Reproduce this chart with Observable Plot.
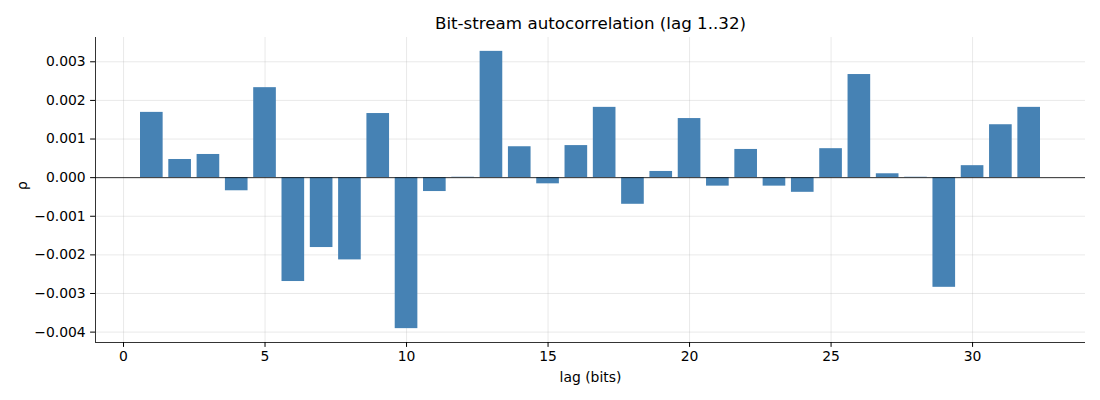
<!DOCTYPE html>
<html><head><meta charset="utf-8">
<script src="https://cdn.jsdelivr.net/npm/d3@7"></script>
<script src="https://cdn.jsdelivr.net/npm/@observablehq/plot@0.6"></script>
<style>html,body{margin:0;padding:0;background:#fff}</style>
</head><body><div id="chart"></div>
<script>
const lags = [1,2,3,4,5,6,7,8,9,10,11,12,13,14,15,16,17,18,19,20,21,22,23,24,25,26,27,28,29,30,31,32];
const rho = [0.00169,0.00047,0.00060,-0.00034,0.00233,-0.00269,-0.00181,-0.00213,0.00166,-0.00391,-0.00036,0.00001,
             0.00327,0.00080,-0.00016,0.00083,0.00182,-0.00069,0.00016,0.00153,-0.00022,0.00073,-0.00022,-0.00038,
             0.00075,0.00267,0.00010,0.00001,-0.00284,0.00031,0.00137,0.00182];
const xTicks = [0,5,10,15,20,25,30];
const yTicks = [-0.004,-0.003,-0.002,-0.001,0,0.001,0.002,0.003];
const titleText = "Bit-stream autocorrelation (lag 1..32)";
const xLabel = "lag (bits)";
const yLabel = "ρ";
const barWidth = 0.8;

const data = lags.map((lag, i) => ({lag, rho: rho[i]}));
const xmin = d3.min(lags) - barWidth / 2, xmax = d3.max(lags) + barWidth / 2;
const xpad = (xmax - xmin) * 0.05;
const ymin = d3.min(rho), ymax = d3.max(rho);
const ypad = (ymax - ymin) * 0.05;
const xDomain = [xmin - xpad, xmax + xpad];
const yDomain = [ymin - ypad, ymax + ypad];
const fmt = d => d3.format(".3f")(d).replace("-", "\u2212");
const gridStyle = {stroke: "#b0b0b0", strokeOpacity: 0.35, strokeWidth: 0.8};

const chart = Plot.plot({
  width: 1100, height: 400,
  marginTop: 37, marginBottom: 58, marginLeft: 95, marginRight: 15,
  style: {fontFamily: "DejaVu Sans", fontSize: "13.9px", background: "white", color: "black"},
  x: {domain: xDomain, label: null},
  y: {domain: yDomain, label: null},
  marks: [
    Plot.gridX(xTicks, gridStyle),
    Plot.gridY(yTicks, gridStyle),
    Plot.rect(data, {x1: d => d.lag - barWidth / 2, x2: d => d.lag + barWidth / 2, y1: d => 0, y2: "rho", fill: "#4682b4"}),
    Plot.ruleY([0], {stroke: "black", strokeWidth: 0.8}),
    Plot.ruleX([xDomain[0]], {stroke: "black", strokeWidth: 0.8}),
    Plot.ruleY([yDomain[0]], {stroke: "black", strokeWidth: 0.8}),
    Plot.axisX(xTicks, {tickSize: 4.9, tickPadding: 4.2, fontSize: 13.9, label: null}),
    Plot.axisY(yTicks, {tickSize: 4.9, tickPadding: 4.9, fontSize: 13.9, tickFormat: fmt, label: null}),
    Plot.text([titleText], {text: d => d, frameAnchor: "top", lineAnchor: "middle", dy: -14, fontSize: 16.7}),
    Plot.text([xLabel], {text: d => d, frameAnchor: "bottom", lineAnchor: "middle", dy: 35, fontSize: 13.9}),
    Plot.text([yLabel], {text: d => d, frameAnchor: "left", lineAnchor: "middle", dx: -73, rotate: -90, fontSize: 13.9})
  ]
});
document.getElementById("chart").appendChild(chart);
</script>
</body></html>
